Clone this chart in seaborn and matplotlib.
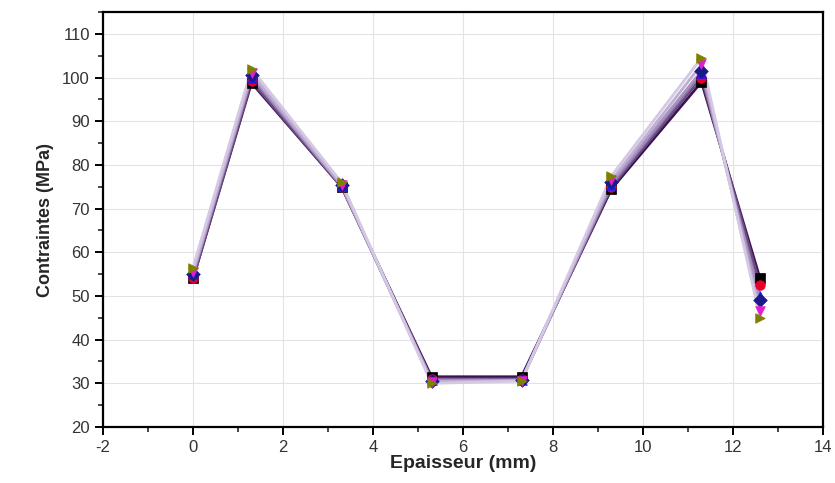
import pandas as pd
import matplotlib.pyplot as plt
import seaborn as sns
from matplotlib.ticker import MultipleLocator

# Data
epaisseur = [0, 1.3, 3.3, 5.3, 7.3, 9.3, 11.3, 12.6]
s1 = [54.0, 98.8, 75.0, 31.5, 31.5, 74.5, 99.0, 54.0]
s2 = [54.0, 99.2, 75.0, 31.0, 31.0, 75.0, 100.0, 52.5]
s3 = [55.0, 100.0, 75.2, 30.8, 30.8, 75.5, 101.0, 50.0]
s4 = [55.0, 100.5, 75.3, 30.6, 30.7, 76.0, 101.5, 49.0]
s5 = [55.5, 101.0, 75.5, 30.4, 30.6, 76.5, 103.0, 46.5]
s6 = [56.5, 102.0, 76.0, 30.0, 30.5, 77.5, 104.5, 45.0]
series_names = ['s1', 's2', 's3', 's4', 's5', 's6']

marker_colors = ['#000000', '#e8002a', '#1a1aff', '#1a1a8c', '#e020d0', '#808000']
markers = ['s', 'o', '^', 'D', 'v', '>']
line_colors = ['#3a1450', '#6a4a80', '#8e74a8', '#a892c0', '#beaed2', '#d4c8e4']

rows = []
for name, vals in zip(series_names, [s1, s2, s3, s4, s5, s6]):
    for x, y in zip(epaisseur, vals):
        rows.append({'serie': name, 'Epaisseur': x, 'Contraintes': y})
df = pd.DataFrame(rows)

sns.set_style('white')
plt.rcParams['font.family'] = ['Liberation Sans', 'DejaVu Sans']
plt.rcParams['axes.unicode_minus'] = False

fig = plt.figure(figsize=(8.35, 4.83), dpi=100)
ax = fig.add_axes([0.1234, 0.116, 0.8622, 0.859])

# lines first (dark to light), markers on top
for name, lc in zip(series_names, line_colors):
    sub = df[df['serie'] == name]
    sns.lineplot(data=sub, x='Epaisseur', y='Contraintes', color=lc, lw=2.0,
                 ax=ax, legend=False, sort=False)
for name, mc, mk in zip(series_names, marker_colors, markers):
    sub = df[df['serie'] == name]
    sns.scatterplot(data=sub, x='Epaisseur', y='Contraintes', color=mc, marker=mk,
                    s=48, edgecolor=mc, linewidth=0.5, ax=ax, legend=False, zorder=5)

ax.set_xlim(-2, 14)
ax.set_ylim(20, 115)
ax.xaxis.set_major_locator(MultipleLocator(2))
ax.xaxis.set_minor_locator(MultipleLocator(1))
ax.yaxis.set_major_locator(MultipleLocator(10))
ax.yaxis.set_minor_locator(MultipleLocator(5))
ax.grid(True, which='major', color='#e2e2e8', lw=0.8)
ax.set_axisbelow(True)

for sp in ax.spines.values():
    sp.set_linewidth(1.6)
    sp.set_color('black')
ax.tick_params(which='major', direction='out', length=6, width=1.4,
               labelsize=12, color='black', labelcolor='#333333',
               bottom=True, left=True)
ax.tick_params(which='minor', direction='out', length=3.5, width=1.2,
               bottom=True, left=True)

ax.set_xlabel('Epaisseur (mm)', fontsize=14, fontweight='bold', labelpad=0)
ax.set_ylabel('Contraintes (MPa)', fontsize=13, fontweight='bold', labelpad=6)

fig.savefig('out.png', dpi=100)
